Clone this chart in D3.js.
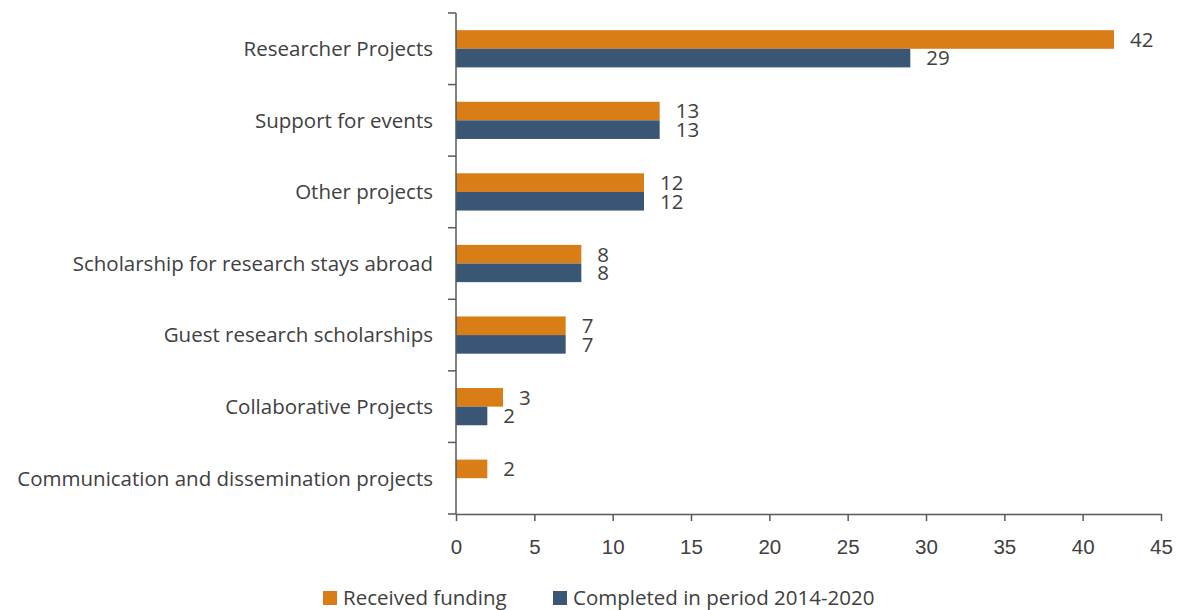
<!DOCTYPE html>
<html>
<head>
<meta charset="utf-8">
<script src="https://cdn.jsdelivr.net/npm/d3@7"></script>
<style>
  html, body { margin: 0; padding: 0; background: #fff; }
  svg { display: block; font-family: "Open Sans", "Noto Sans", sans-serif; }
  .axis path, .axis line { stroke: #595959; stroke-width: 1.5; }
  .axis text { fill: #404040; font-size: 20.5px; }
</style>
</head>
<body>
<svg id="chart" width="1180" height="610"></svg>
<script>
// data
const categories = [
  "Researcher Projects",
  "Support for events",
  "Other projects",
  "Scholarship for research stays abroad",
  "Guest research scholarships",
  "Collaborative Projects",
  "Communication and dissemination projects"
];
const receivedFunding = [42, 13, 12, 8, 7, 3, 2];
const completedPeriod = [29, 13, 12, 8, 7, 2, null];
const seriesNames = ["Received funding", "Completed in period 2014-2020"];
const seriesColors = ["#d97d17", "#3a5675"];
const xTicks = [0, 5, 10, 15, 20, 25, 30, 35, 40, 45];

(function () {
  const svg = d3.select("#chart");
  const margin = { left: 456, right: 19, top: 13, bottom: 96 };
  const width = 1180, height = 610;
  const fs = 20.5;

  const x = d3.scaleLinear().domain([0, 45]).range([margin.left, width - margin.right]);
  const y = d3.scaleBand()
    .domain(categories)
    .range([margin.top, height - margin.bottom])
    .paddingInner(0.48)
    .paddingOuter(0.24);
  const ySub = d3.scaleBand().domain([0, 1]).range([0, y.bandwidth()]);

  const rows = categories.map((c, i) => ({
    cat: c,
    vals: [receivedFunding[i], completedPeriod[i]]
  }));

  // bars
  const groups = svg.append("g").selectAll("g")
    .data(rows)
    .join("g")
    .attr("transform", d => `translate(0,${y(d.cat)})`);

  const cells = groups.selectAll("g")
    .data(d => d.vals.map((v, k) => ({ v, k })).filter(e => e.v != null))
    .join("g");

  cells.append("rect")
    .attr("x", x(0))
    .attr("y", d => ySub(d.k))
    .attr("width", d => x(d.v) - x(0))
    .attr("height", ySub.bandwidth())
    .attr("fill", d => seriesColors[d.k]);

  cells.append("text")
    .attr("x", d => x(d.v) + 16)
    .attr("y", d => ySub(d.k) + ySub.bandwidth() / 2)
    .attr("dy", "0.36em")
    .attr("fill", "#404040")
    .attr("font-size", fs)
    .text(d => d.v);

  // x axis
  svg.append("g")
    .attr("class", "axis")
    .attr("transform", `translate(0,${height - margin.bottom})`)
    .call(d3.axisBottom(x).tickValues(xTicks).tickSize(7).tickPadding(18).tickSizeOuter(0));

  // y axis, ticks sit between categories
  const yAxis = svg.append("g")
    .attr("class", "axis")
    .attr("transform", `translate(${margin.left},0)`);
  yAxis.append("line")
    .attr("x1", 0).attr("x2", 0)
    .attr("y1", margin.top).attr("y2", height - margin.bottom);
  const step = y.step();
  const bounds = d3.range(categories.length + 1).map(i => margin.top + i * step);
  yAxis.selectAll("line.tk")
    .data(bounds)
    .join("line")
    .attr("class", "tk")
    .attr("x1", -8).attr("x2", 0)
    .attr("y1", d => d).attr("y2", d => d);
  yAxis.selectAll("text")
    .data(categories)
    .join("text")
    .attr("x", -23)
    .attr("y", d => y(d) + y.bandwidth() / 2)
    .attr("dy", "0.36em")
    .attr("text-anchor", "end")
    .text(d => d);

  // legend
  const legendX = [323, 553];
  const legend = svg.append("g").selectAll("g")
    .data(seriesNames)
    .join("g")
    .attr("transform", (d, i) => `translate(${legendX[i]},591)`);
  legend.append("rect")
    .attr("width", 14).attr("height", 14)
    .attr("fill", (d, i) => seriesColors[i]);
  legend.append("text")
    .attr("x", 20).attr("y", 7)
    .attr("dy", "0.36em")
    .attr("fill", "#404040")
    .attr("font-size", fs)
    .text(d => d);
})();
</script>
</body>
</html>
